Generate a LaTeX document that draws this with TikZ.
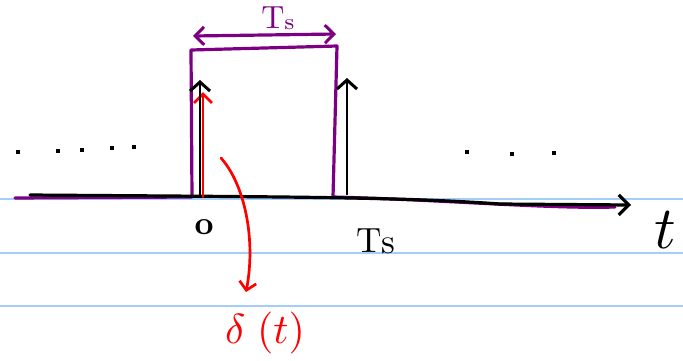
\documentclass[tikz,border=0pt]{standalone}
\usetikzlibrary{arrows.meta}
\definecolor{rulec}{RGB}{165,205,250}
\definecolor{purc}{RGB}{125,0,130}
\begin{document}
\begin{tikzpicture}[x=1pt,y=-1pt,
  rule/.style={draw=rulec, line width=1.3pt},
  pur/.style={draw=purc, line width=3.2pt, line cap=round, line join=round},
  ink/.style={draw=black, line width=3.2pt, line cap=round},
  redink/.style={draw=red, line width=2.7pt, line cap=round},
  chev/.style={-{Straight Barb[length=10pt,width=20pt,line width=3.2pt]}},
  dotm/.style={fill=black, inner sep=0pt, minimum size=4.5pt, rectangle}]
\useasboundingbox (0,0) rectangle (683,360);
% ruled lines
\draw[rule] (0,199) -- (683,199);
\draw[rule] (0,253) -- (683,253);
\draw[rule] (0,306) -- (683,306);
% coordinates
\coordinate (axL) at (30,195);
\coordinate (axR) at (631,205);
\coordinate (bl) at (192,197);
\coordinate (tl) at (191,50);
\coordinate (tr) at (337,46);
\coordinate (br) at (333,197);
% purple rect function
\draw[pur] (15,198) -- (bl) -- (tl) -- (tr) -- (br) .. controls (450,200) and (550,209) .. (615,207);
% axis
\draw[ink, chev] (axL) .. controls (300,197) and (400,197) .. (500,204) -- (axR);
% Ts span
\coordinate (sa) at (193,36);
\coordinate (sb) at (336,34);
\draw[pur, {Straight Barb[length=9pt,width=18pt,line width=3pt]}-{Straight Barb[length=9pt,width=18pt,line width=3pt]}] (sa) -- (sb);
\node[text=purc, inner sep=0pt, anchor=base] (tsTop) at (278,28) {\scalebox{3.2}{T\raisebox{-0.6pt}{\scriptsize s}}};
% red impulse
\coordinate (r0) at (203,197);
\coordinate (r1) at (203,92);
\draw[redink, -{Straight Barb[length=9pt,width=18pt,line width=2.7pt]}] (r0) -- (r1);
% black impulses
\coordinate (k0) at (200,197);
\coordinate (k1) at (200,80);
\coordinate (m0) at (347,195);
\coordinate (m1) at (347,78);
\draw[draw=black, line width=2.3pt, -{Straight Barb[length=9pt,width=20pt,line width=3pt]}] (k0) -- (k1);
\draw[draw=black, line width=2.3pt, -{Straight Barb[length=9pt,width=20pt,line width=3pt]}] (m0) -- (m1);
% labels
\node[inner sep=0pt, anchor=base] (zero) at (204,234) {\scalebox{3.3}{\bfseries o}};
\node[inner sep=0pt, anchor=base] (tsB) at (376,252) {\scalebox{3.5}{T\raisebox{-0.4pt}{s}}};
\node[inner sep=0pt, anchor=base] (tlab) at (665,248) {\scalebox{6}{$t$}};
\node[inner sep=0pt, anchor=base, text=red] (delta) at (265,343) {\scalebox{4.2}{$\delta\;(t)$}};
% red curved pointer
\coordinate (cs) at (221,158);
\draw[redink, -{Straight Barb[length=8pt,width=17pt,line width=2.7pt]}] (cs) .. controls (245,185) and (256,240) .. (246,292);
% dots
\foreach \p/\q [count=\i] in {18/152,58/151,82/150,112/148,134/147,467/152,512/154,554/153}
  \node[dotm] (d\i) at (\p,\q) {};
\end{tikzpicture}
\end{document}
